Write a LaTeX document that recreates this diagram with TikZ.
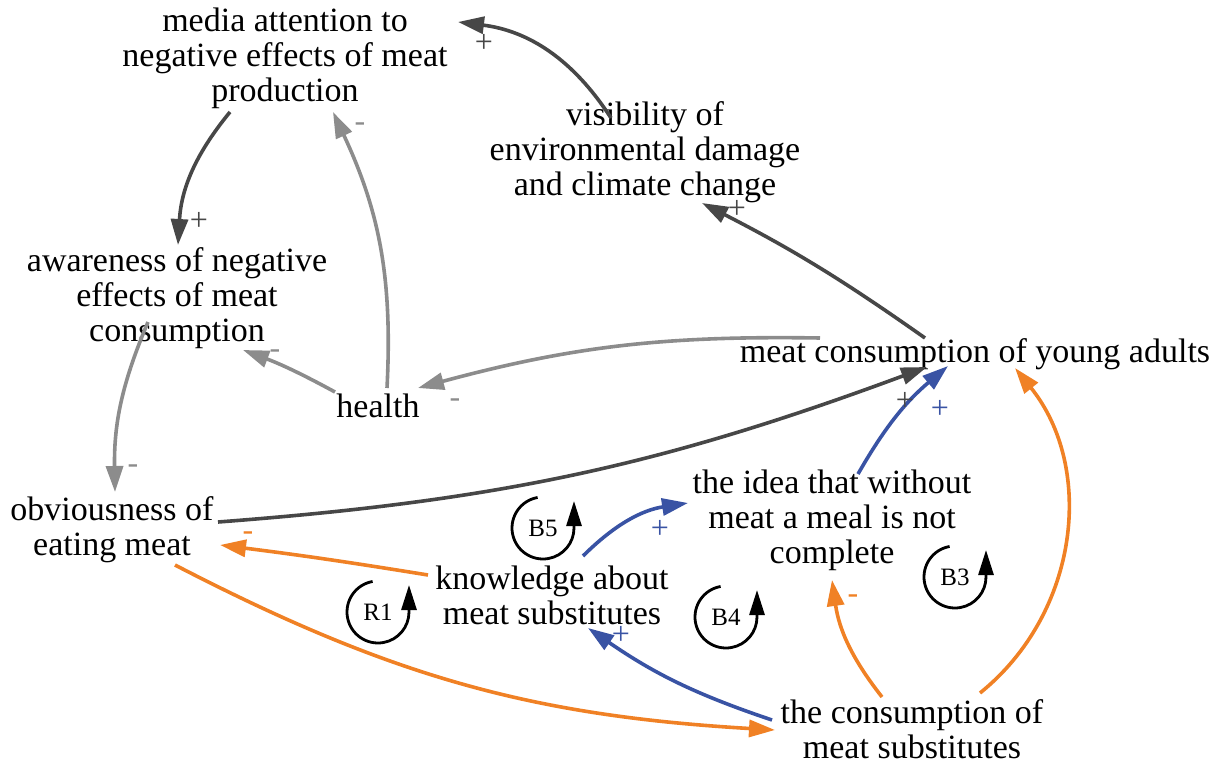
\documentclass[tikz,border=0pt]{standalone}
\usepackage{fontspec}
\setmainfont{Liberation Serif}
\usetikzlibrary{arrows.meta}
\definecolor{cdark}{HTML}{474747}
\definecolor{cgray}{HTML}{8C8C8C}
\definecolor{cblue}{HTML}{3953A4}
\definecolor{corange}{HTML}{F08125}
\begin{document}
\begin{tikzpicture}[x=1pt,y=-1pt,
  var/.style={align=center,font=\fontsize{34}{35}\selectfont,inner sep=0pt},
  link/.style={line width=3.6pt,-{Triangle[length=26pt,width=17pt]}},
  sgn/.style={font=\fontsize{32}{32}\selectfont,inner sep=0pt},
  loopsym/.style={line width=2.8pt,-{Triangle[length=25pt,width=15pt]}},
  looplab/.style={font=\fontsize{25}{25}\selectfont,inner sep=0pt}]
\useasboundingbox (0,0) rectangle (1226,765);

% variables
\node[var] (media) at (285,58) {media attention to\\negative effects of meat\\production};
\node[var] (vis) at (645,152) {visibility of\\environmental damage\\and climate change};
\node[var] (aware) at (177,298) {awareness of negative\\effects of meat\\consumption};
\node[var] (health) at (378,406) {health};
\node[var] (meat) at (975,354) {meat consumption of young adults};
\node[var] (obv) at (112,530) {obviousness of\\eating meat};
\node[var] (idea) at (832,520) {the idea that without\\meat a meal is not\\complete};
\node[var] (know) at (552,595) {knowledge about\\meat substitutes};
\node[var] (cons) at (912,729) {the consumption of\\meat substitutes};

% causal links
\draw[link,cdark] ([shift={(-34,-34)}]vis.center) to[bend right=25] ([shift={(173,-36)}]media.center);
\draw[link,cdark] ([shift={(-55,54)}]media.center) to[bend right=18] ([shift={(1,-53)}]aware.center);
\draw[link,cgray] ([shift={(9,-18)}]health.center) to[bend right=14] ([shift={(48,54)}]media.center);
\draw[link,cdark] ([shift={(-50,-16)}]meat.center) to[bend right=4] ([shift={(57,51)}]vis.center);
\draw[link,cgray] ([shift={(-155,-16)}]meat.center) to[bend right=8] ([shift={(40,-18)}]health.center);
\draw[link,cgray] ([shift={(-43,-14)}]health.center) to[bend right=4] ([shift={(66,52)}]aware.center);
\draw[link,cgray] ([shift={(-29,24)}]aware.center) to[bend right=12] ([shift={(3,-38)}]obv.center);
\draw[link,cdark] ([shift={(106,-8)}]obv.center) to[bend right=8] ([shift={(-48,13)}]meat.center);
\draw[link,corange] ([shift={(-124,-20)}]know.center) to[bend right=1] ([shift={(108,15)}]obv.center);
\draw[link,corange] ([shift={(63,35)}]obv.center) to[bend right=12] ([shift={(-137,1)}]cons.center);
\draw[link,cblue] ([shift={(-140,-9)}]cons.center) to[bend left=8] ([shift={(36,33)}]know.center);
\draw[link,cblue] ([shift={(31,-39)}]know.center) to[bend left=18] ([shift={(-144,-17)}]idea.center);
\draw[link,cblue] ([shift={(26,-46)}]idea.center) to[bend left=10] ([shift={(-27,12)}]meat.center);
\draw[link,corange] ([shift={(-30,-32)}]cons.center) to[bend left=15] ([shift={(0,60)}]idea.center);
\draw[link,corange] ([shift={(68,-36)}]cons.center) to[bend right=45] ([shift={(40,14)}]meat.center);

% polarity signs
\node[sgn,cdark] (s1) at (484,43) {+};
\node[sgn,cdark] (s2) at (199,221) {+};
\node[sgn,cgray] (s3) at (360,127) {-};
\node[sgn,cdark] (s4) at (737,209) {+};
\node[sgn,cgray] (s5) at (455,403) {-};
\node[sgn,cgray] (s6) at (275,354) {-};
\node[sgn,cgray] (s7) at (133,469) {-};
\node[sgn,cdark] (s8) at (905,401) {+};
\node[sgn,cblue] (s9) at (940,409) {+};
\node[sgn,corange] (s10) at (1030,388) {-};
\node[sgn,cblue] (s11) at (660,529) {+};
\node[sgn,corange] (s12) at (248,536) {-};
\node[sgn,cblue] (s13) at (621,635) {+};
\node[sgn,corange] (s14) at (853,599) {-};

% loop markers
\node[looplab] (R1) at (378,612) {R1};
\draw[loopsym] ([shift={(-100:31)}]R1.center) arc[start angle=-100,end angle=-360,radius=31] -- ++(0,-27);
\node[looplab] (B5) at (543,528) {B5};
\draw[loopsym] ([shift={(-100:31)}]B5.center) arc[start angle=-100,end angle=-360,radius=31] -- ++(0,-27);
\node[looplab] (B4) at (726,617) {B4};
\draw[loopsym] ([shift={(-100:31)}]B4.center) arc[start angle=-100,end angle=-360,radius=31] -- ++(0,-27);
\node[looplab] (B3) at (955,577) {B3};
\draw[loopsym] ([shift={(-100:31)}]B3.center) arc[start angle=-100,end angle=-360,radius=31] -- ++(0,-27);
\end{tikzpicture}
\end{document}
